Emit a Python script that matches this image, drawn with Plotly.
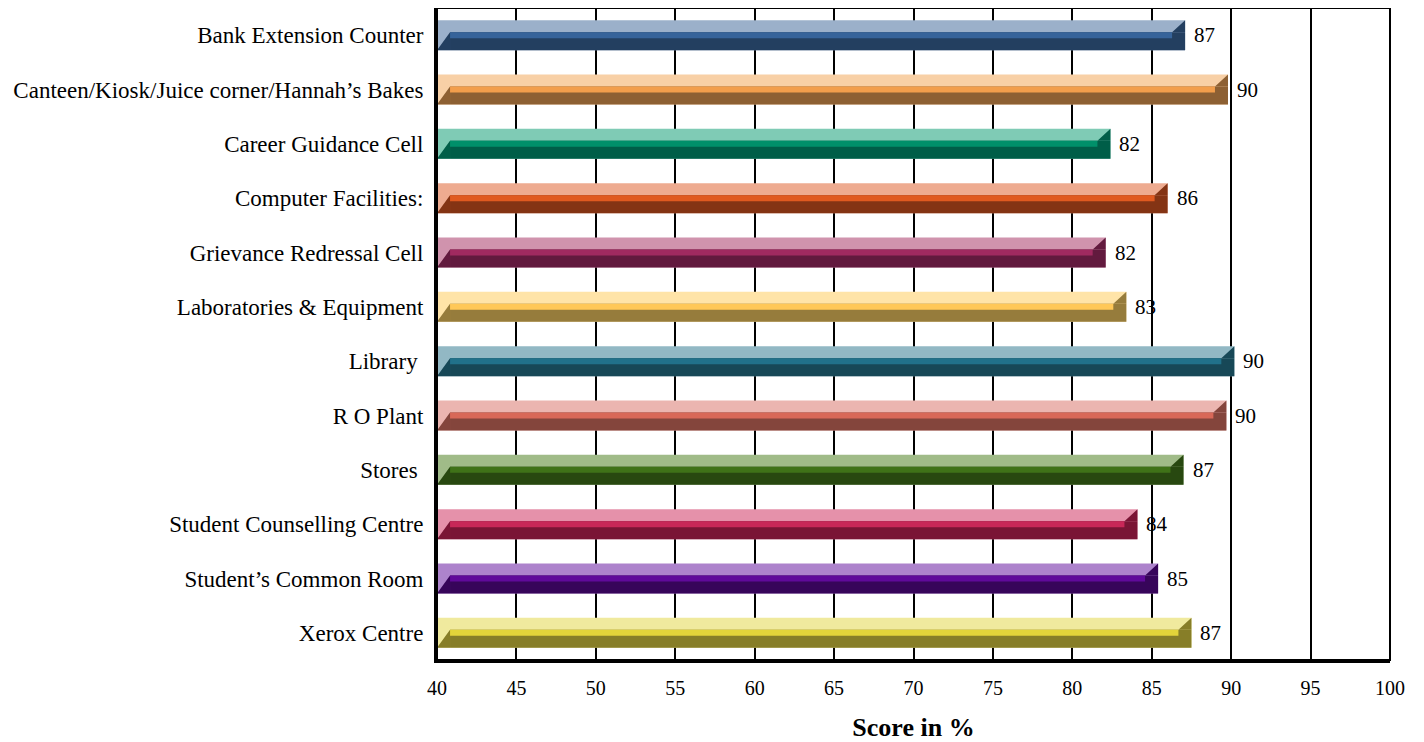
import plotly.graph_objects as go

categories = [
    "Bank Extension Counter",
    "Canteen/Kiosk/Juice corner/Hannah\u2019s Bakes",
    "Career Guidance Cell",
    "Computer Facilities:",
    "Grievance Redressal Cell",
    "Laboratories & Equipment",
    "Library ",
    "R O Plant",
    "Stores ",
    "Student Counselling Centre",
    "Student\u2019s Common Room",
    "Xerox Centre",
]
bar_values = [87.1, 89.8, 82.4, 86.0, 82.1, 83.4, 90.2, 89.7, 87.0, 84.1, 85.4, 87.5]
value_labels = ["87", "90", "82", "86", "82", "83", "90", "90", "87", "84", "85", "87"]
x_ticks = [40, 45, 50, 55, 60, 65, 70, 75, 80, 85, 90, 95, 100]

light_colors = ["#9BB0CA", "#F8D0A6", "#7FCBB5", "#EEAB90", "#D093AD", "#FFE4A8",
                "#92B8C4", "#EBB5B0", "#A0BB88", "#E591AA", "#AD83CC", "#F0EA9E"]
mid_colors = ["#36639A", "#F29E4C", "#00906A", "#E05A20", "#A02A60", "#FFC858",
              "#21718A", "#D86858", "#3F7218", "#C82858", "#600A9A", "#E3D43A"]
dark_colors = ["#233F60", "#8D6033", "#005E48", "#843414", "#621A3E", "#967C3C",
               "#174857", "#84453C", "#284810", "#7A1535", "#37055A", "#877E28"]

X0 = 40.0       # axis start
D = 0.82        # bevel depth (x units)
TH = 0.552      # bar thickness (category units)
LT = 0.221      # light top face
MD = 0.11       # mid highlight strip

n = len(categories)
pos = list(range(n))

fig = go.Figure()

# light top face (full thickness)
fig.add_trace(go.Bar(
    orientation="h", y=pos, x=[v - X0 for v in bar_values], base=[X0] * n,
    width=TH, offset=-TH / 2, marker=dict(color=light_colors, line=dict(width=0)),
    hoverinfo="skip", showlegend=False))
# dark front face
fig.add_trace(go.Bar(
    orientation="h", y=pos, x=[v - X0 - D for v in bar_values], base=[X0 + D] * n,
    width=TH - LT, offset=-TH / 2 + LT, marker=dict(color=dark_colors, line=dict(width=0)),
    hoverinfo="skip", showlegend=False))
# mid highlight strip
fig.add_trace(go.Bar(
    orientation="h", y=pos, x=[v - X0 - 2 * D for v in bar_values], base=[X0 + D] * n,
    width=MD, offset=-TH / 2 + LT, marker=dict(color=mid_colors, line=dict(width=0)),
    hoverinfo="skip", showlegend=False))

# bevel triangles (left bottom + right end)
for i, v in enumerate(bar_values):
    top = i - TH / 2
    front = i - TH / 2 + LT
    bot = i + TH / 2
    xs = [X0, X0 + D, X0 + D, X0, None, v - D, v, v, v - D]
    ys = [bot, front, bot, bot, None, front, top, front, front]
    fig.add_trace(go.Scatter(
        x=xs, y=ys, mode="lines", fill="toself", fillcolor=dark_colors[i],
        line=dict(width=0, color=dark_colors[i]), hoverinfo="skip", showlegend=False))

for i, v in enumerate(bar_values):
    fig.add_annotation(x=v, y=i, text=value_labels[i], showarrow=False,
                       xanchor="left", yanchor="middle", xshift=7, yshift=0,
                       font=dict(family="Liberation Serif", size=21, color="black"))

fig.update_layout(
    width=1416, height=734,
    margin=dict(l=429, r=34, t=0, b=82),
    paper_bgcolor="white", plot_bgcolor="white",
    barmode="overlay",
    font=dict(family="Liberation Serif", size=19, color="black"),
    xaxis=dict(
        range=[40, 100], tickvals=x_ticks, ticktext=[str(t) for t in x_ticks],
        showgrid=True, gridcolor="black", gridwidth=2, zeroline=False,
        showline=True, linecolor="black", linewidth=3,
        ticks="", ticklabelstandoff=8,
        tickfont=dict(family="Liberation Serif", size=20),
        title=dict(text="<b>Score in %</b>", font=dict(family="Liberation Serif", size=26),
                   standoff=20),
    ),
    yaxis=dict(
        range=[n - 0.5, -0.5], tickvals=pos, ticktext=categories,
        showgrid=False, zeroline=False, showline=True, linecolor="black", linewidth=3,
        ticks="", ticklabelstandoff=6,
        tickfont=dict(family="Liberation Serif", size=23),
    ),
    shapes=[dict(type="rect", xref="paper", yref="paper", x0=0, y0=0, x1=1, y1=1,
                 line=dict(color="black", width=2), layer="above")],
)

fig.write_html("out.html")
